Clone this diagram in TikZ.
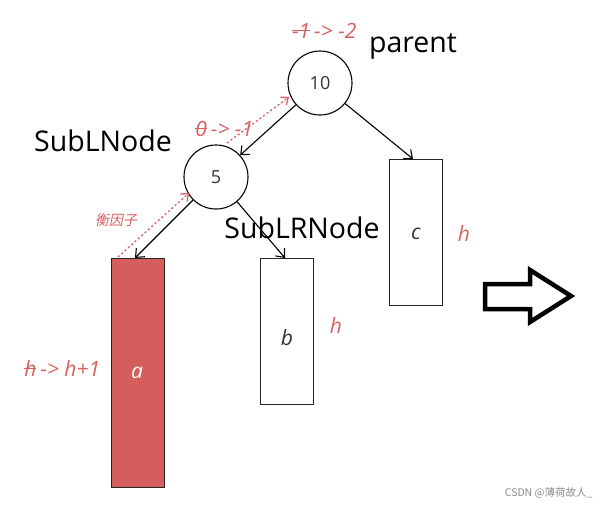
\documentclass[tikz,border=0pt]{standalone}
\usepackage{fontspec}
\setmainfont{Open Sans}
\newfontfamily\cjk{Noto Sans CJK SC}
\newfontfamily\cjkit[FakeSlant=0.2]{Noto Sans CJK SC}
\usetikzlibrary{arrows.meta}
\definecolor{redfill}{RGB}{212,94,92}
\definecolor{redtxt}{RGB}{218,96,96}
\definecolor{dgray}{RGB}{50,50,50}
\tikzset{
  tnode/.style={circle,draw=black,line width=1.1pt,minimum size=64pt,inner sep=0pt,font=\fontsize{18}{18}\selectfont,text=dgray},
  boxnode/.style={draw=black!85,line width=1.2pt,minimum width=53pt,anchor=north west,inner sep=0pt},
  conn/.style={line width=1.1pt,-{Straight Barb[length=7pt,width=12pt,line width=1.1pt]}},
  dconn/.style={draw=redtxt,line width=1.3pt,dash pattern=on 2pt off 2.5pt,-{Straight Barb[length=6pt,width=10pt,line width=1.3pt]}},
  bigtxt/.style={font=\fontsize{28.5}{28.5}\selectfont,text=black},
  redlab/.style={text=redtxt,font=\itshape\fontsize{21}{21}\selectfont},
  boxlab/.style={font=\itshape\fontsize{21}{21}\selectfont},
}
\newcommand{\strk}[1]{\tikz[baseline=(s.base)]{\node[inner sep=0pt,outer sep=0pt](s){#1};\draw[redtxt,line width=1pt]([yshift=1pt]s.west)--([yshift=1pt]s.east);}}
\begin{document}
\begin{tikzpicture}[x=1pt,y=-1pt]
\useasboundingbox[fill=white] (0,0) rectangle (599,504);
\node[tnode] (n10) at (320,83) {10};
\node[tnode] (n5) at (216,177) {5};
\node[boxnode,fill=redfill,minimum height=229pt] (a) at (111,258) {};
\node[boxnode,minimum height=146pt] (b) at (260,258) {};
\node[boxnode,minimum height=146pt] (c) at (389,159) {};
\node[boxlab,text=white] (la) at (137,373) {a};
\node[boxlab,text=dgray] (lb) at (287,338) {b};
\node[boxlab,text=dgray] (lc) at (416,234) {c};
\coordinate (ca) at (135,258);
\coordinate (cb) at (285,258);
\coordinate (cc) at (413,159);
\draw[conn] (n10) -- (n5);
\draw[conn] (n10) -- (cc);
\draw[conn] (n5) -- (ca);
\draw[conn] (n5) -- (cb);
\coordinate (d1s) at (227,143);
\coordinate (d1e) at (289,97);
\coordinate (d2s) at (118,257);
\coordinate (d2e) at (189,193);
\draw[dconn] (d1s) -- (d1e);
\draw[dconn] (d2s) -- (d2e);
\node[bigtxt] (tp) at (413,47) {parent};
\node[bigtxt] (tl) at (103,141) {SubLNode};
\node[bigtxt] (tlr) at (302,228) {SubLRNode};
\node[redlab] (r1) at (324,31) {\strk{-1}\,-> -2};
\node[redlab] (r2) at (224,129) {\strk{0}\,-> -1};
\node[redlab] (r3) at (62,369) {\strk{h}\,-> h+1};
\node[text=redtxt,font=\cjkit\fontsize{14}{14}\selectfont] (r4) at (116,220) {衡因子};
\node[redlab] (h1) at (464,234) {h};
\node[redlab] (h2) at (336,326) {h};
\draw[line width=4.5pt,line join=miter] (485,284) -- (530,284) -- (530,270) -- (571,296) -- (530,322) -- (530,309) -- (485,309) -- cycle;
\node[text=black!45,font=\cjk\fontsize{10.5}{10.5}\selectfont,anchor=east] (wm) at (596,493) {CSDN @薄荷故人\_};
\end{tikzpicture}
\end{document}
